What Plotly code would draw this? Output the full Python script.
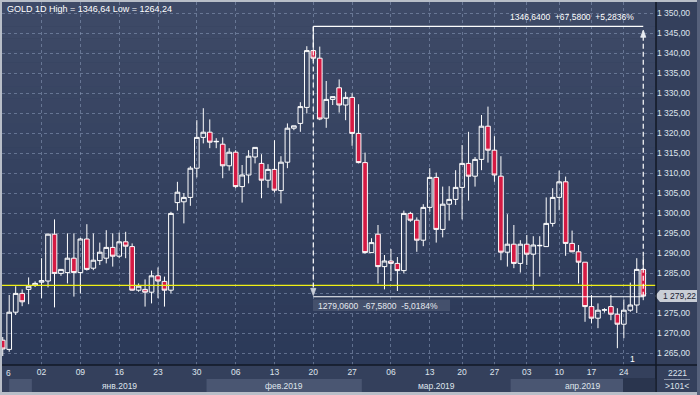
import plotly.graph_objects as go

# ---------------- data ----------------
opens = [1268.2, 1265.9, 1275.2, 1279.9, 1280.9, 1282.0, 1282.7, 1283.0, 1294.7, 1284.9,
         1285.1, 1288.7, 1285.1, 1293.5, 1286.2, 1288.1, 1288.7, 1291.4, 1289.2, 1292.8,
         1291.6, 1280.7, 1280.9, 1280.2, 1284.3, 1282.9, 1280.7, 1302.6, 1302.8, 1303.9,
         1311.2, 1318.9, 1320.2, 1317.8, 1317.2, 1311.8, 1315.2, 1306.6, 1309.5, 1314.0,
         1312.4, 1308.2, 1310.9, 1305.6, 1312.7, 1321.2, 1322.4, 1326.4, 1340.6, 1338.7,
         1323.7, 1328.4, 1331.3, 1327.0, 1328.9, 1319.9, 1312.6, 1290.1, 1294.7, 1286.6,
         1288.0, 1287.4, 1285.6, 1299.9, 1298.2, 1293.2, 1301.4, 1308.9, 1295.9, 1302.2,
         1303.4, 1306.4, 1312.4, 1309.2, 1313.4, 1321.7, 1315.7, 1309.2, 1290.2, 1292.2,
         1287.4, 1292.2, 1289.7, 1291.8, 1291.6, 1297.4, 1303.9, 1307.8, 1292.4, 1290.3,
         1287.7, 1276.6, 1273.7, 1275.7, 1276.6, 1274.7, 1272.2, 1275.7, 1277.0, 1285.9]
highs = [1269.0, 1279.5, 1281.7, 1280.9, 1283.9, 1282.9, 1288.7, 1294.9, 1298.4, 1286.0,
         1294.9, 1294.9, 1293.8, 1297.2, 1294.9, 1292.6, 1295.7, 1294.9, 1295.1, 1295.3,
         1292.4, 1282.4, 1283.4, 1285.6, 1286.4, 1284.1, 1300.3, 1307.8, 1305.0, 1311.7,
         1323.2, 1326.2, 1323.4, 1318.7, 1318.9, 1316.2, 1315.7, 1312.0, 1315.7, 1316.4,
         1314.7, 1312.2, 1318.2, 1314.2, 1322.4, 1321.8, 1327.7, 1341.7, 1346.64, 1341.6,
         1333.0, 1329.1, 1333.4, 1330.3, 1329.9, 1327.2, 1315.1, 1293.7, 1297.0, 1289.5,
         1291.0, 1289.0, 1300.6, 1300.3, 1298.9, 1302.2, 1311.2, 1310.1, 1306.6, 1306.7,
         1310.7, 1317.0, 1320.3, 1314.0, 1324.5, 1326.6, 1319.2, 1314.2, 1299.7, 1297.0,
         1293.2, 1294.5, 1294.2, 1294.2, 1303.9, 1306.2, 1310.6, 1309.1, 1295.6, 1292.0,
         1287.7, 1279.5, 1277.4, 1276.2, 1279.5, 1276.2, 1278.4, 1282.6, 1288.7, 1289.0]
lows = [1264.24, 1265.3, 1274.5, 1276.7, 1277.2, 1281.5, 1278.7, 1281.4, 1276.4, 1284.3,
        1282.4, 1279.1, 1279.9, 1285.6, 1285.7, 1287.0, 1287.4, 1286.6, 1288.7, 1288.7,
        1280.6, 1280.3, 1276.6, 1277.4, 1278.7, 1276.6, 1279.9, 1300.6, 1297.4, 1301.8,
        1308.9, 1317.4, 1316.2, 1316.2, 1308.7, 1310.6, 1306.2, 1302.6, 1307.4, 1312.4,
        1303.7, 1306.3, 1305.1, 1302.4, 1311.2, 1320.7, 1320.3, 1324.9, 1338.0, 1323.2,
        1321.3, 1327.0, 1325.1, 1323.2, 1316.8, 1312.4, 1289.8, 1290.0, 1282.4, 1280.9,
        1283.0, 1280.5, 1284.9, 1297.8, 1290.3, 1291.7, 1300.3, 1292.6, 1293.9, 1298.1,
        1302.0, 1298.4, 1303.1, 1306.6, 1310.7, 1312.6, 1307.8, 1288.2, 1286.6, 1286.2,
        1285.1, 1287.0, 1280.7, 1284.1, 1291.6, 1296.6, 1300.7, 1289.3, 1290.2, 1282.4,
        1272.8, 1272.4, 1271.2, 1275.1, 1273.2, 1266.2, 1268.7, 1275.3, 1275.0, 1278.2]
closes = [1266.0, 1275.2, 1279.9, 1277.8, 1281.7, 1282.4, 1283.1, 1294.7, 1284.9, 1285.9,
          1288.7, 1285.1, 1293.5, 1285.9, 1288.2, 1290.2, 1291.4, 1289.2, 1292.8, 1291.7,
          1280.7, 1281.7, 1280.2, 1284.3, 1283.0, 1280.7, 1299.9, 1305.2, 1303.9, 1311.2,
          1318.9, 1320.2, 1317.7, 1317.9, 1311.8, 1315.2, 1306.6, 1309.5, 1314.2, 1316.4,
          1308.2, 1310.9, 1305.7, 1312.7, 1321.2, 1321.8, 1326.6, 1340.6, 1338.7, 1323.5,
          1328.4, 1329.1, 1327.0, 1328.9, 1319.9, 1312.6, 1290.1, 1292.6, 1286.6, 1288.0,
          1287.4, 1285.6, 1299.9, 1298.2, 1293.2, 1301.4, 1308.9, 1295.9, 1302.2, 1303.4,
          1306.4, 1312.4, 1309.2, 1313.4, 1321.7, 1315.7, 1309.5, 1290.2, 1292.2, 1287.4,
          1292.2, 1289.7, 1292.0, 1291.9, 1297.4, 1303.9, 1307.8, 1292.4, 1290.3, 1287.7,
          1276.6, 1273.7, 1275.7, 1275.8, 1274.7, 1272.2, 1275.7, 1277.0, 1285.9, 1279.22]

tick_idx = [0, 6, 12, 18, 24, 30, 36, 42, 48, 54, 60, 66, 71, 76, 81, 86, 91, 96]
tick_txt = ["6", "02", "09", "16", "23", "30", "06", "13", "20", "27",
            "06", "13", "20", "27", "03", "10", "17", "24"]
month_labels = ["янв.2019", "фев.2019", "мар.2019", "апр.2019"]
month_edges = [4.5, 31.5, 55.5, 78.5]          # first candle of each month - 0.5
price_ticks = list(range(1265, 1351, 5))
last_price = 1279.22
yellow_level = 1281.9
meas_hi, meas_lo = 1346.64, 1279.06
meas_from, meas_to = 48, 99
title_text = "GOLD 1D High = 1346,64 Low = 1264,24"
meas_hi_text = "1346,6400\u00a0\u00a0+67,5800\u00a0\u00a0+5,2836%"
meas_lo_text = "1279,0600\u00a0\u00a0-67,5800\u00a0\u00a0-5,0184%"

# ---------------- geometry / style ----------------
W, H = 700, 395
PL, PR, PT, PB = 2, 656, 2, 365
XMIN, XMAX = -0.114, 100.97
YMIN, YMAX = 1262.0, 1352.75
AX_BG = "#34405c"
BAND = "#4a5672"
GRID = "rgba(140,156,188,0.55)"
TXT = "#dfe4ec"
FRAME = "#b8bec8"
DARK = "#121826"
RED = "#d51a43"
FONT = "Liberation Sans, Arial, sans-serif"


def fx(px):
    return (px - PL) / (PR - PL)


def fy(py):
    return (PB - py) / (PB - PT)


def kx(k):
    return (k - XMIN) / (XMAX - XMIN)


def fmt_price(v):
    return f"{v:,.2f}".replace(",", " ").replace(".", ",")


x = list(range(len(opens)))

fig = go.Figure(go.Candlestick(
    x=x, open=opens, high=highs, low=lows, close=closes,
    increasing=dict(line=dict(color="white", width=1), fillcolor="rgba(0,0,0,0)"),
    decreasing=dict(line=dict(color="white", width=1), fillcolor=RED),
    whiskerwidth=0, hoverinfo="skip",
))

shapes = []
# plot background gradient
top_c = (62, 74, 103)
bot_c = (43, 57, 88)
N = 30
for i in range(N):
    t = i / (N - 1)
    c = tuple(int(round(bot_c[j] + (top_c[j] - bot_c[j]) * t)) for j in range(3))
    shapes.append(dict(type="rect", xref="paper", yref="paper", x0=0, x1=1,
                       y0=i / N, y1=(i + 1) / N, fillcolor="rgb(%d,%d,%d)" % c,
                       line=dict(width=0), layer="below"))

# month bands (second row of the time axis)
band_edges = [1.0] + month_edges + [XMAX]
for i in range(len(band_edges) - 1):
    if i % 2 == 0:
        shapes.append(dict(type="rect", xref="paper", yref="paper",
                           x0=kx(band_edges[i]), x1=kx(band_edges[i + 1]),
                           y0=fy(392), y1=fy(379), fillcolor=BAND,
                           line=dict(width=0), layer="below"))
shapes.append(dict(type="rect", xref="paper", yref="paper", x0=fx(623), x1=fx(655),
                   y0=fy(392), y1=fy(378), fillcolor="#2a354e", line=dict(width=0),
                   layer="below"))

# yellow horizontal level
shapes.append(dict(type="line", xref="paper", yref="y", x0=0, x1=1,
                   y0=yellow_level, y1=yellow_level, line=dict(color="#f0f014", width=1.4)))

# measurement tool
shapes.append(dict(type="line", xref="x", yref="y", x0=meas_from, x1=meas_to,
                   y0=meas_hi, y1=meas_hi, line=dict(color="white", width=1.2)))
shapes.append(dict(type="line", xref="x", yref="y", x0=meas_from, x1=meas_to,
                   y0=meas_lo, y1=meas_lo, line=dict(color="white", width=1.2)))
shapes.append(dict(type="rect", xref="paper", yref="paper", x0=fx(313), x1=fx(450),
                   y0=fy(311), y1=fy(299.5), fillcolor="#44506c", line=dict(width=0)))
shapes.append(dict(type="line", xref="x", yref="y", x0=meas_from, x1=meas_from,
                   y0=meas_hi, y1=meas_lo + 1.2,
                   line=dict(color="white", width=1.2, dash="5px,3px")))
shapes.append(dict(type="line", xref="x", yref="y", x0=meas_to, x1=meas_to,
                   y0=meas_lo, y1=meas_hi - 1.2,
                   line=dict(color="white", width=1.2, dash="5px,3px")))
# arrow heads
shapes.append(dict(type="path", xref="x", yref="y",
                   path="M %f,%f L %f,%f L %f,%f Z" % (meas_to, meas_hi - 0.9,
                                                       meas_to - 0.4, meas_hi - 2.7,
                                                       meas_to + 0.4, meas_hi - 2.7),
                   fillcolor="#e8ebf0", line=dict(color="#e8ebf0", width=0.8)))
shapes.append(dict(type="path", xref="x", yref="y",
                   path="M %f,%f L %f,%f L %f,%f Z" % (meas_from, meas_lo + 0.3,
                                                       meas_from - 0.4, meas_lo + 2.1,
                                                       meas_from + 0.4, meas_lo + 2.1),
                   fillcolor="#c9ced8", line=dict(color="#c9ced8", width=0.8)))

# current price tag on the price scale
tag_h = 1.5
shapes.append(dict(type="path", xref="paper", yref="y",
                   path="M %f,%f L %f,%f L %f,%f L %f,%f L %f,%f Z" % (
                       fx(655), last_price, fx(660), last_price + tag_h,
                       fx(697), last_price + tag_h, fx(697), last_price - tag_h,
                       fx(660), last_price - tag_h),
                   fillcolor="#c9ced6", line=dict(width=0)))

# separators and window frame
shapes.append(dict(type="line", xref="paper", yref="paper", x0=1, x1=1,
                   y0=fy(393), y1=fy(1), line=dict(color=DARK, width=1.5)))
shapes.append(dict(type="line", xref="paper", yref="paper", x0=fx(1), x1=fx(698),
                   y0=0, y1=0, line=dict(color=DARK, width=1.5)))
shapes.append(dict(type="line", xref="paper", yref="paper", x0=fx(664), x1=fx(690),
                   y0=fy(379.5), y1=fy(379.5), line=dict(color="#8a94a8", width=1)))
for (a, b, c, d, col) in [(0, 2, 0, 395, FRAME), (0, 700, 0, 2, FRAME),
                          (0, 700, 392, 395, FRAME), (697, 700, 0, 395, "#56617b")]:
    shapes.append(dict(type="rect", xref="paper", yref="paper", x0=fx(a), x1=fx(b),
                       y0=fy(d), y1=fy(c), fillcolor=col, line=dict(width=0)))

annotations = []
annotations.append(dict(text=title_text, xref="paper", yref="paper", x=fx(5), y=fy(9),
                        xanchor="left", yanchor="middle", showarrow=False,
                        font=dict(family=FONT, size=9, color="white")))
annotations.append(dict(text=meas_hi_text, xref="paper", yref="paper", x=fx(636), y=fy(17),
                        xanchor="right", yanchor="middle", showarrow=False,
                        font=dict(family=FONT, size=8.5, color="white")))
annotations.append(dict(text=meas_lo_text, xref="paper", yref="paper", x=fx(316), y=fy(305.5),
                        xanchor="left", yanchor="middle", showarrow=False,
                        font=dict(family=FONT, size=8.5, color="#e4e8ee")))
annotations.append(dict(text=fmt_price(last_price), xref="paper", yref="y", x=fx(661),
                        y=last_price, xanchor="left", yanchor="middle", showarrow=False,
                        font=dict(family=FONT, size=8.5, color="#1a2133")))
# first date label at the left edge (only its last digit is visible in the original)
annotations.append(dict(text=tick_txt[0], xref="paper", yref="paper", x=fx(3.5), y=fy(373),
                        xanchor="left", yanchor="middle", showarrow=False,
                        font=dict(family=FONT, size=8.5, color=TXT)))
centers = [(month_edges[i] + (month_edges[i + 1] if i + 1 < len(month_edges) else XMAX)) / 2
           for i in range(len(month_edges))]
for lab, c in zip(month_labels, centers):
    annotations.append(dict(text=lab, xref="x", yref="paper", x=c, y=fy(385.5),
                            xanchor="center", yanchor="middle", showarrow=False,
                            font=dict(family=FONT, size=8.5, color=TXT)))
annotations.append(dict(text="2221", xref="paper", yref="paper", x=fx(677), y=fy(373),
                        xanchor="center", yanchor="middle", showarrow=False,
                        font=dict(family=FONT, size=8.5, color=TXT)))
annotations.append(dict(text="&gt;101&lt;", xref="paper", yref="paper", x=fx(677), y=fy(386),
                        xanchor="center", yanchor="middle", showarrow=False,
                        font=dict(family=FONT, size=8.5, color=TXT)))
annotations.append(dict(text="1", xref="paper", yref="paper", x=fx(632), y=fy(359),
                        xanchor="center", yanchor="middle", showarrow=False,
                        font=dict(family=FONT, size=8.5, color="white")))

fig.update_layout(
    width=W, height=H,
    margin=dict(l=PL, r=W - PR, t=PT, b=H - PB, autoexpand=False),
    paper_bgcolor=AX_BG, plot_bgcolor="#34415e",
    showlegend=False, boxgap=0.1, boxgroupgap=0.2,
    font=dict(family=FONT, size=8.5, color=TXT),
    shapes=shapes, annotations=annotations,
    xaxis=dict(range=[XMIN, XMAX], rangeslider=dict(visible=False), automargin=False,
               tickmode="array", tickvals=tick_idx,
               ticktext=[""] + tick_txt[1:],
               showgrid=True, gridcolor=GRID, griddash="3px,3px", gridwidth=1,
               zeroline=False, showline=False, ticks="",
               tickfont=dict(family=FONT, size=8.5, color=TXT)),
    yaxis=dict(range=[YMIN, YMAX], side="right", automargin=False,
               tickmode="array", tickvals=price_ticks,
               ticktext=["" if v == 1280 else fmt_price(v) for v in price_ticks],
               showgrid=True, gridcolor=GRID, griddash="3px,3px", gridwidth=1,
               zeroline=False, showline=False, ticks="",
               tickfont=dict(family=FONT, size=8.5, color=TXT)),
)

fig.write_html("out.html", config={"displayModeBar": False, "staticPlot": True},
               post_script="document.body.style.margin='0';document.body.style.overflow='hidden';")
